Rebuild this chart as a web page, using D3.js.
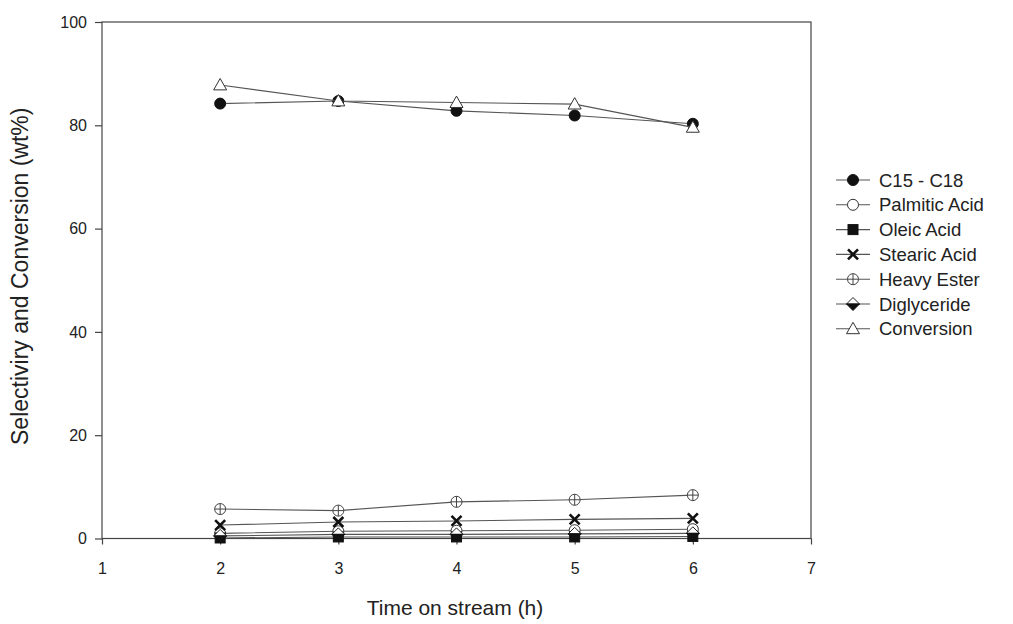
<!DOCTYPE html>
<html lang="en">
<head>
<meta charset="UTF-8">
<title>Selectivity and Conversion</title>
<script src="https://d3js.org/d3.v7.min.js"></script>
<style>
  body { margin: 0; background: #fff; font-family: 'Liberation Sans', Arial, sans-serif; }
  text { fill: #222; }
</style>
</head>
<body>
<svg id="chart" width="1013" height="624"></svg>
<script>
// data
const hours = [2, 3, 4, 5, 6];
const c15c18 = [84.2, 84.7, 82.8, 81.9, 80.3];
const palmitic = [1.0, 1.4, 1.5, 1.6, 1.8];
const oleic = [0.1, 0.3, 0.3, 0.3, 0.4];
const stearic = [2.6, 3.2, 3.4, 3.7, 3.9];
const heavyEster = [5.7, 5.4, 7.1, 7.5, 8.4];
const diglyceride = [0.5, 0.8, 0.8, 0.9, 1.0];
const conversion = [87.8, 84.7, 84.4, 84.1, 79.6];
const xTicks = [1, 2, 3, 4, 5, 6, 7];
const yTicks = [0, 20, 40, 60, 80, 100];

const series = [
  { name: "C15 - C18", values: c15c18, marker: "dot" },
  { name: "Palmitic Acid", values: palmitic, marker: "circle" },
  { name: "Oleic Acid", values: oleic, marker: "square" },
  { name: "Stearic Acid", values: stearic, marker: "cross" },
  { name: "Heavy Ester", values: heavyEster, marker: "ring" },
  { name: "Diglyceride", values: diglyceride, marker: "diamond" },
  { name: "Conversion", values: conversion, marker: "triangle" }
];

const svg = d3.select("#chart");
const plotL = 102, plotR = 811, plotT = 22, plotB = 538.5;

const x = d3.scaleLinear().domain([1, 7]).range([plotL, plotR]);
const y = d3.scaleLinear().domain([0, 100]).range([plotB, plotT]);

const lineColor = "#444";

// frame
svg.append("rect")
  .attr("x", plotL).attr("y", plotT)
  .attr("width", plotR - plotL).attr("height", plotB - plotT)
  .attr("fill", "none").attr("stroke", lineColor).attr("stroke-width", 1.2);

// axes
const yAxis = svg.append("g").attr("transform", `translate(${plotL},0)`)
  .call(d3.axisLeft(y).tickValues(yTicks).tickSize(7).tickPadding(8));
const xAxis = svg.append("g").attr("transform", `translate(0,${plotB})`)
  .call(d3.axisBottom(x).tickValues(xTicks).tickFormat(d3.format("d")).tickSize(6).tickPadding(18));
[yAxis, xAxis].forEach(a => {
  a.select(".domain").remove();
  a.selectAll("line").attr("stroke", lineColor).attr("stroke-width", 1.2);
  a.selectAll("text").attr("font-size", 16).attr("fill", "#222")
    .attr("font-family", "'Liberation Sans', Arial, sans-serif");
});

svg.append("text")
  .attr("transform", `translate(28,${(plotT + plotB) / 2 - 4}) rotate(-90)`)
  .attr("text-anchor", "middle")
  .attr("font-size", 23)
  .text("Selectiviry and Conversion (wt%)");

svg.append("text")
  .attr("x", 455).attr("y", 615)
  .attr("text-anchor", "middle")
  .attr("font-size", 21)
  .text("Time on stream (h)");

function drawMarker(g, type, cx, cy) {
  const r = 5.5;
  if (type === "dot") {
    g.append("circle").attr("cx", cx).attr("cy", cy).attr("r", r)
      .attr("fill", "#111").attr("stroke", "#111");
  } else if (type === "circle") {
    g.append("circle").attr("cx", cx).attr("cy", cy).attr("r", r)
      .attr("fill", "#fff").attr("stroke", "#333");
  } else if (type === "square") {
    g.append("rect").attr("x", cx - 5).attr("y", cy - 5).attr("width", 10).attr("height", 10)
      .attr("fill", "#111").attr("stroke", "#111");
  } else if (type === "cross") {
    g.append("path").attr("d", `M${cx - 5},${cy - 5}L${cx + 5},${cy + 5}M${cx - 5},${cy + 5}L${cx + 5},${cy - 5}`)
      .attr("stroke", "#111").attr("stroke-width", 2.6);
  } else if (type === "ring") {
    g.append("circle").attr("cx", cx).attr("cy", cy).attr("r", r)
      .attr("fill", "#fff").attr("stroke", "#444");
    g.append("path").attr("d", `M${cx - r},${cy}L${cx + r},${cy}M${cx},${cy - r}L${cx},${cy + r}`)
      .attr("stroke", "#444").attr("stroke-width", 1);
  } else if (type === "diamond") {
    const d = 6.5;
    g.append("path").attr("d", `M${cx - d},${cy}L${cx},${cy - d}L${cx + d},${cy}Z`)
      .attr("fill", "#fff").attr("stroke", "#222");
    g.append("path").attr("d", `M${cx - d},${cy}L${cx},${cy + d}L${cx + d},${cy}Z`)
      .attr("fill", "#111").attr("stroke", "#111");
  } else if (type === "triangle") {
    const s = 6.5;
    g.append("path").attr("d", `M${cx},${cy - s}L${cx + s},${cy + s * 0.75}L${cx - s},${cy + s * 0.75}Z`)
      .attr("fill", "#fff").attr("stroke", "#333");
  }
}

const line = d3.line().x((d, i) => x(hours[i])).y(d => y(d));

series.forEach(s => {
  const g = svg.append("g");
  g.append("path").attr("d", line(s.values))
    .attr("fill", "none").attr("stroke", "#555").attr("stroke-width", 1.1);
  s.values.forEach((v, i) => drawMarker(g, s.marker, x(hours[i]), y(v)));
});

// legend
const legend = svg.append("g");
series.forEach((s, i) => {
  const ly = 180 + i * 24.8;
  legend.append("line").attr("x1", 836).attr("x2", 870).attr("y1", ly).attr("y2", ly)
    .attr("stroke", "#555").attr("stroke-width", 1.1);
  drawMarker(legend, s.marker, 853, ly);
  legend.append("text").attr("x", 879).attr("y", ly + 6.5)
    .attr("font-size", 18.5).text(s.name);
});
</script>
</body>
</html>
